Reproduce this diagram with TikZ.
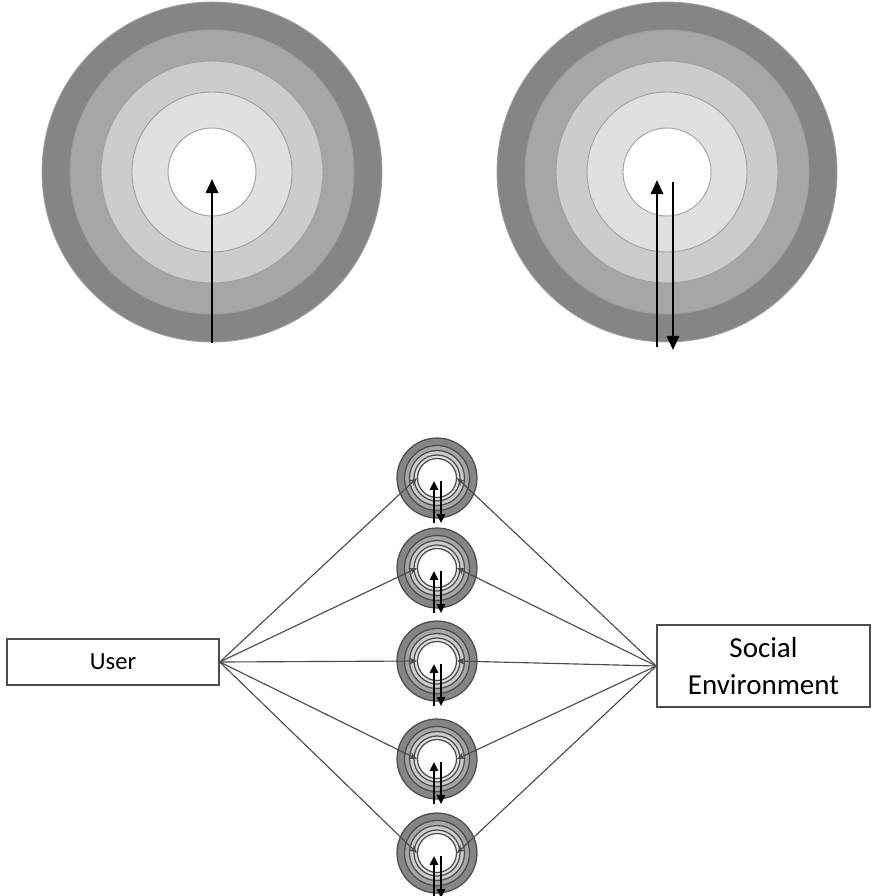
\documentclass[tikz,border=0pt]{standalone}
\usepackage{fontspec}
\setmainfont{Carlito}
\usetikzlibrary{arrows.meta}
\definecolor{gray40}{gray}{0.4}
\definecolor{gray30}{gray}{0.3}
\definecolor{gray52}{gray}{0.52}
\definecolor{gray62}{gray}{0.62}
\definecolor{gray65}{gray}{0.65}
\definecolor{gray80}{gray}{0.8}
\definecolor{gray88}{gray}{0.88}

\begin{document}
\begin{tikzpicture}[x=0.02cm, y=-0.02cm,
    box/.style={draw=gray30, line width=0.9pt, fill=white, inner sep=0pt},
    link/.style={gray30, line width=0.65pt, -{Stealth[length=4.5pt, width=4pt]}},
    bigarrow/.style={black, line width=1.4pt},
    smallarrow/.style={black, line width=1.6pt}]

  \useasboundingbox (0, 0) rectangle (874, 896);

  % big targets
  \foreach \cx in {212, 667} {
    \foreach \r/\c in {3.40/gray52, 2.84/gray65, 2.22/gray80, 1.60/gray88, 0.88/white} {
      \draw[gray62, line width=0.5pt, fill=\c] (\cx, 172) circle[radius=\r cm];
    }
  }

  \draw[bigarrow, -{Triangle[length=8pt, width=7pt]}] (212, 343) -- (212, 179);
  \draw[bigarrow, -{Triangle[length=8pt, width=7pt]}] (657, 347) -- (657, 180);
  \draw[bigarrow, -{Triangle[length=8pt, width=7pt]}] (673, 182) -- (673, 350);

  % small targets
  \foreach \i/\cy in {1/478, 2/568, 3/661, 4/759, 5/853} {
    \foreach \r/\c in {0.80/gray52, 0.65/gray65, 0.55/gray80, 0.46/gray88, 0.39/white} {
      \draw[gray30, line width=0.7pt, fill=\c] (437, \cy) circle[radius=\r cm];
    }
    \coordinate (t\i w) at (417, \cy);
    \coordinate (t\i e) at (457, \cy);
  }

  % user and social environment
  \node[box, minimum width=4.24cm, minimum height=0.92cm, font=\fontsize{14}{16}\selectfont]
    (user) at (113, 662) {User};
  \node[box, minimum width=4.26cm, minimum height=1.64cm, align=center,
    font=\fontsize{16.5}{21}\selectfont] (env) at (763.5, 666) {Social\\Environment};

  \foreach \i in {1, ..., 5} {
    \draw[link] (user.east) -- (t\i w);
    \draw[link] (env.west) -- (t\i e);
  }

  \foreach \cy in {478, 568, 661, 759, 853} {
    \draw[smallarrow, -{Triangle[length=5pt, width=4.5pt]}] (434, \cy+45) -- (434, \cy+3);
    \draw[smallarrow, -{Triangle[length=5pt, width=4.5pt]}] (441, \cy+3) -- (441, \cy+45);
  }

\end{tikzpicture}
\end{document}
